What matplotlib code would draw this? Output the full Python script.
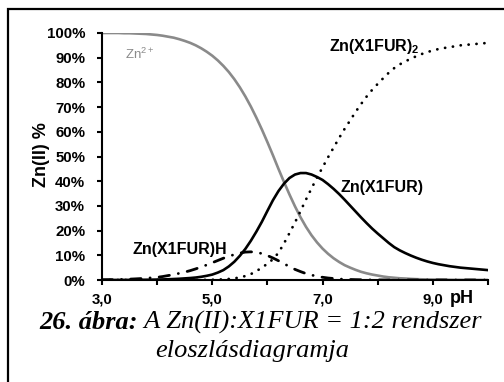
import matplotlib
matplotlib.use('Agg')
import matplotlib.pyplot as plt
from matplotlib.patches import Rectangle
import matplotlib.transforms as mtransforms

plt.rcParams['font.family'] = ['Liberation Sans', 'DejaVu Sans']
plt.rcParams['mathtext.fontset'] = 'custom'
plt.rcParams['mathtext.rm'] = 'Liberation Sans'
plt.rcParams['mathtext.bf'] = 'Liberation Sans:bold'
plt.rcParams['mathtext.it'] = 'Liberation Sans'
plt.rcParams['lines.scale_dashes'] = False

# ---- data, pH 3.0 ... 10.0 in steps of 0.1 ----
ph = [round(3.0 + 0.1 * i, 1) for i in range(71)]
zn_free = [100, 100, 100, 100, 99.9, 99.9, 99.8, 99.7, 99.6, 99.4,
           99.2, 98.9, 98.5, 98.1, 97.5, 96.8, 96.0, 95.0, 93.8, 92.4,
           90.8, 88.9, 86.7, 84.2, 81.3, 78.0, 74.3, 70.2, 65.7, 60.9,
           55.8, 50.5, 45.0, 39.7, 34.6, 29.8, 25.4, 21.5, 18.1, 15.2,
           12.7, 10.6, 8.8, 7.3, 6.0, 5.0, 4.1, 3.3, 2.7, 2.2,
           1.8, 1.4, 1.1, 0.9, 0.7, 0.6, 0.45, 0.35, 0.28, 0.22,
           0.17, 0.13, 0.1, 0.08, 0.06, 0.05, 0.04, 0.03, 0.02, 0.02, 0.01]
zn_lh = [0.1, 0.12, 0.15, 0.2, 0.27, 0.35, 0.45, 0.57, 0.72, 0.9,
         1.1, 1.4, 1.8, 2.2, 2.7, 3.2, 3.8, 4.5, 5.3, 6.1,
         7.0, 7.9, 8.8, 9.6, 10.3, 10.9, 11.3, 11.4, 11.2, 10.7,
         9.9, 8.9, 7.8, 6.6, 5.4, 4.3, 3.4, 2.6, 2.0, 1.5,
         1.1, 0.8, 0.6, 0.4, 0.3, 0.2, 0.14, 0.1, 0.07, 0.05,
         0.03, 0.02, 0.01, 0.01, 0, 0, 0, 0, 0, 0,
         0, 0, 0, 0, 0, 0, 0, 0, 0, 0, 0]
zn_l = [0, 0, 0, 0.02, 0.03, 0.04, 0.05, 0.07, 0.1, 0.13,
        0.17, 0.23, 0.3, 0.4, 0.5, 0.65, 0.8, 1.0, 1.3, 1.7,
        2.2, 3.0, 4.0, 5.5, 7.4, 9.8, 12.6, 15.9, 19.6, 23.6,
        28.0, 32.3, 36.0, 39.0, 41.3, 42.7, 43.3, 43.3, 42.7, 41.7,
        40.5, 38.8, 36.9, 34.8, 32.5, 30.1, 27.7, 25.3, 23.0, 20.8,
        18.8, 16.9, 15.0, 13.3, 12.0, 10.9, 9.9, 9.0, 8.2, 7.5,
        6.9, 6.4, 6.0, 5.6, 5.3, 5.0, 4.8, 4.6, 4.4, 4.2, 4.0]
zn_l2 = [0, 0, 0, 0, 0, 0, 0, 0, 0, 0,
         0, 0, 0, 0, 0, 0.01, 0.02, 0.03, 0.05, 0.07,
         0.1, 0.17, 0.27, 0.42, 0.63, 1.1, 1.6, 2.4, 3.6, 5.0,
         6.6, 8.4, 11.0, 14.8, 19.0, 23.3, 27.9, 32.6, 37.1, 41.5,
         45.6, 49.7, 53.6, 57.5, 61.2, 64.6, 68.1, 71.3, 74.3, 77.0,
         79.4, 81.7, 83.9, 85.8, 87.3, 88.5, 89.6, 90.6, 91.5, 92.3,
         92.9, 93.5, 93.9, 94.3, 94.6, 95.0, 95.2, 95.4, 95.6, 95.8, 96.0]

x_ticks = [3, 4, 5, 6, 7, 8, 9, 10]
x_tick_labels = ['3,0', '', '5,0', '', '7,0', '', '9,0', '']
y_ticks = [0, 10, 20, 30, 40, 50, 60, 70, 80, 90, 100]
y_tick_labels = ['%d%%' % v for v in y_ticks]

W, H, DPI = 504, 382, 100
fig = plt.figure(figsize=(W / DPI, H / DPI), dpi=DPI)
fig.patch.set_facecolor('white')

ax = fig.add_axes([102 / W, 1 - 280 / H, (488 - 102) / W, (280 - 33) / H])
grey = '#8a8a8a'
ax.plot(ph, zn_free, color=grey, lw=1.9, solid_capstyle='round')
ax.plot(ph, zn_l, color='black', lw=1.9, solid_capstyle='round')
ax.plot(ph, zn_l2, color='black', lw=2.0, linestyle=(0, (0.1, 5.6)), dash_capstyle='round')
ax.plot(ph, zn_lh, color='black', lw=2.0, linestyle=(0, (7.5, 6.5, 0.1, 6.5)), dash_capstyle='round')

ax.set_xlim(3, 10)
ax.set_ylim(0, 100)
ax.set_xticks(x_ticks)
ax.set_xticklabels(x_tick_labels, fontsize=10.8, fontweight='bold')
ax.set_yticks(y_ticks)
ax.set_yticklabels(y_tick_labels, fontsize=10.8, fontweight='bold')
for s in ['top', 'right']:
    ax.spines[s].set_visible(False)
for s in ['left', 'bottom']:
    ax.spines[s].set_linewidth(1.5)
ax.tick_params(axis='x', direction='out', length=3.6, width=1.5, pad=5.5)
ax.tick_params(axis='y', direction='out', length=3.6, width=1.5, pad=8.5)

fig.text(41 / W, 1 - 155 / H, 'Zn(II) %', rotation=90, fontsize=13, fontweight='bold',
         ha='center', va='center')

# curve labels
ax.text(3.42, 89.5, 'Zn$^{2+}$', color=grey, fontsize=9.5, va='baseline', ha='left')
ax.text(7.12, 92.7, r'Zn(X1FUR)$_\mathbf{2}$', color='black', fontsize=11.5, fontweight='bold',
        va='baseline', ha='left')
ax.text(7.32, 35.6, 'Zn(X1FUR)', color='black', fontsize=11.5, fontweight='bold', va='baseline', ha='left')
ax.text(3.56, 10.5, 'Zn(X1FUR)H', color='black', fontsize=11.5, fontweight='bold', va='baseline', ha='left')

trans = mtransforms.blended_transform_factory(ax.transData, ax.transAxes)
ax.text(9.3, -0.093, 'pH', transform=trans, fontsize=13, fontweight='bold', va='baseline', ha='left')

# outer frame (clipped at right and bottom)
fig.patches.append(Rectangle((8 / W, -0.2), 1.5, 1 - 9 / H + 0.2, transform=fig.transFigure,
                             fill=False, edgecolor='black', lw=1.6, clip_on=False))

# caption
serif = ['Liberation Serif', 'DejaVu Serif']
fs_cap = 19
renderer = fig.canvas.get_renderer()
t1 = fig.text(0, 0, '26. ábra:', family=serif, style='italic', weight='bold', fontsize=fs_cap,
              va='baseline')
t2 = fig.text(0, 0, ' A Zn(II):X1FUR = 1:2 rendszer', family=serif, style='italic', fontsize=fs_cap,
              va='baseline')
w1 = t1.get_window_extent(renderer).width
w2 = t2.get_window_extent(renderer).width
xc = 260
x0 = xc - (w1 + w2) / 2
yb = H - 329
t1.set_position((x0 / W, yb / H))
t2.set_position(((x0 + w1) / W, yb / H))
fig.text(252 / W, (H - 357) / H, 'eloszlásdiagramja', family=serif, style='italic', fontsize=fs_cap,
         ha='center', va='baseline')

fig.savefig('out.png', dpi=DPI)
